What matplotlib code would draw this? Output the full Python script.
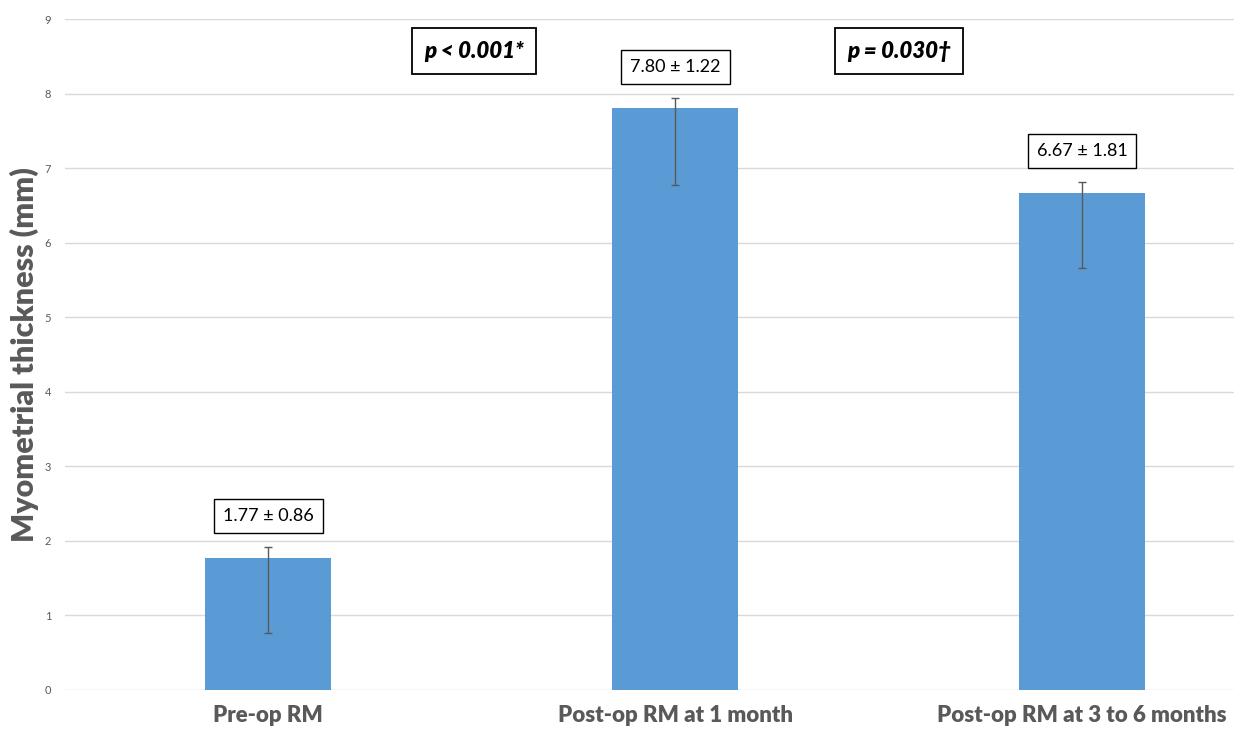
import matplotlib.pyplot as plt
import numpy as np

# data
groups = ['Pre-op RM', 'Post-op RM at 1 month', 'Post-op RM at 3 to 6 months']
means = [1.77, 7.80, 6.67]
sds = [0.86, 1.22, 1.81]
err_low = [1.00, 1.02, 1.01]
err_high = [0.15, 0.14, 0.14]
p_labels = ['p < 0.001*', 'p = 0.030\u2020']

plt.rcParams['font.family'] = ['Lato', 'DejaVu Sans']

fig = plt.figure(figsize=(12.34, 7.31), dpi=100)
ax = fig.add_axes([65 / 1234, 41 / 731, 1 - 65 / 1234, (690 - 19) / 731])

x = np.arange(len(groups))
ax.bar(x, means, width=0.31, color='#5B9BD5', zorder=2)
ax.errorbar(x, means, yerr=[err_low, err_high], fmt='none', ecolor='#595959',
            elinewidth=1, capsize=3, capthick=1, zorder=3)

# value boxes above each bar
for xi, m, s, eh in zip(x, means, sds, err_high):
    ax.text(xi, m + eh + 0.42, f'{m:.2f} \u00b1 {s:.2f}', ha='center', va='center',
            fontsize=13, color='black',
            bbox=dict(boxstyle='square,pad=0.5', fc='white', ec='black', lw=1))

# p-value boxes between bars
p_x = [0.505, 1.55]
for px, lab in zip(p_x, p_labels):
    ax.text(px, 8.57, lab, ha='center', va='center', fontsize=16,
            fontweight='heavy', fontstyle='italic', color='black',
            bbox=dict(boxstyle='square,pad=0.55', fc='white', ec='black', lw=1.3))

ax.set_xlim(-0.5, (1234 - 268) / 407)
ax.set_ylim(0, 9)
ax.set_yticks(range(10))
ax.yaxis.grid(True, color='#d9d9d9', lw=1, zorder=0)
ax.set_axisbelow(True)
for sp in ax.spines.values():
    sp.set_visible(False)
ax.tick_params(axis='y', length=0, labelsize=8, labelcolor='#595959', pad=10)
ax.tick_params(axis='x', length=0, pad=11)
ax.set_xticks(x)
ax.set_xticklabels(groups, fontsize=16, fontweight='heavy', color='#595959')
ax.set_ylabel('Myometrial thickness (mm)', fontsize=22, fontweight='heavy',
              color='#595959', labelpad=4)

plt.savefig('out.png', dpi=100)
